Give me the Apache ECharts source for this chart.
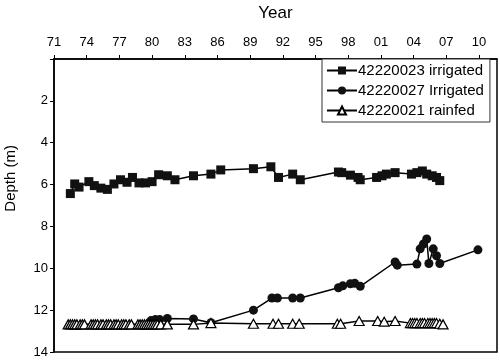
<!DOCTYPE html>
<html><head><meta charset="utf-8">
<script src="https://cdn.jsdelivr.net/npm/echarts@6/dist/echarts.min.js"></script>
<style>html,body{margin:0;padding:0;background:#fff}#c{width:500px;height:361px}</style>
</head><body><div id="c"></div>
<script>
var seriesNames = ['42220023 irrigated', '42220027 Irrigated', '42220021 rainfed'];
var xTicks = [1971, 1974, 1977, 1980, 1983, 1986, 1989, 1992, 1995, 1998, 2001, 2004, 2007, 2010];
var yTicks = [2, 4, 6, 8, 10, 12, 14];

var s1Years = [1972.5, 1972.9, 1973.3, 1974.2, 1974.7, 1975.3, 1975.9, 1976.5, 1977.1, 1977.7, 1978.2, 1978.8, 1979.4, 1980.0, 1980.6, 1981.4, 1982.1, 1983.8, 1985.4, 1986.3, 1989.3, 1990.9, 1991.6, 1992.9, 1993.6, 1997.1, 1997.4, 1998.2, 1998.9, 1999.1, 2000.6, 2001.1, 2001.5, 2002.3, 2003.8, 2004.3, 2004.8, 2005.2, 2005.7, 2006.1, 2006.4];
var s1Depth = [6.43, 5.97, 6.12, 5.86, 6.05, 6.17, 6.23, 5.97, 5.77, 5.89, 5.66, 5.92, 5.92, 5.86, 5.53, 5.58, 5.77, 5.58, 5.50, 5.30, 5.24, 5.15, 5.66, 5.50, 5.77, 5.40, 5.43, 5.55, 5.66, 5.77, 5.66, 5.58, 5.50, 5.43, 5.50, 5.43, 5.35, 5.50, 5.58, 5.66, 5.81];

var s2Years = [1979.9, 1980.3, 1980.7, 1981.4, 1983.8, 1985.4, 1989.3, 1991.0, 1991.5, 1992.9, 1993.6, 1997.1, 1997.5, 1998.2, 1998.6, 1999.1, 2002.3, 2002.5, 2004.3, 2004.6, 2004.9, 2005.2, 2005.4, 2005.8, 2006.1, 2006.4, 2009.9];
var s2Depth = [12.50, 12.45, 12.45, 12.40, 12.42, 12.60, 12.00, 11.42, 11.42, 11.42, 11.42, 10.93, 10.84, 10.74, 10.72, 10.86, 9.70, 9.85, 9.80, 9.07, 8.84, 8.60, 9.77, 9.07, 9.40, 9.77, 9.12];

var s3Years = [1972.3, 1972.5, 1972.7, 1972.9, 1973.1, 1973.4, 1973.6, 1973.8, 1974.4, 1974.6, 1974.8, 1975.0, 1975.3, 1975.5, 1975.8, 1976.0, 1976.2, 1976.5, 1976.7, 1976.9, 1977.2, 1977.4, 1977.6, 1977.9, 1978.1, 1978.7, 1978.9, 1979.1, 1979.3, 1979.5, 1979.7, 1979.9, 1980.1, 1980.3, 1980.5, 1980.8, 1981.4, 1983.8, 1985.4, 1989.3, 1991.1, 1991.6, 1992.9, 1993.5, 1997.0, 1997.3, 1999.0, 2000.7, 2001.3, 2002.3, 2003.7, 2003.9, 2004.1, 2004.3, 2004.6, 2004.8, 2005.0, 2005.3, 2005.5, 2005.7, 2005.9, 2006.1, 2006.4, 2006.7];
var s3Depth = [12.68, 12.68, 12.68, 12.68, 12.68, 12.68, 12.68, 12.68, 12.68, 12.68, 12.68, 12.68, 12.68, 12.68, 12.68, 12.68, 12.68, 12.68, 12.68, 12.68, 12.68, 12.68, 12.68, 12.68, 12.68, 12.68, 12.68, 12.68, 12.68, 12.68, 12.68, 12.68, 12.68, 12.68, 12.68, 12.68, 12.68, 12.68, 12.62, 12.65, 12.65, 12.65, 12.65, 12.65, 12.65, 12.65, 12.52, 12.52, 12.55, 12.52, 12.62, 12.62, 12.62, 12.62, 12.62, 12.62, 12.62, 12.62, 12.62, 12.62, 12.62, 12.62, 12.65, 12.68];

function zip(a, b) { return a.map(function (v, i) { return [v, b[i]]; }); }

var FONT = '"Liberation Sans", Arial, Helvetica, sans-serif';
var chart = echarts.init(document.getElementById('c'), null, {renderer: 'canvas'});
chart.setOption({
  animation: false,
  backgroundColor: '#fff',
  grid: {left: 54, right: 3, top: 49, bottom: 9, show: true, borderColor: '#000', borderWidth: 1.5, containLabel: false},
  legend: {
    orient: 'vertical', left: 322, top: 59,
    padding: [4, 6, 4, 4], itemGap: 5,
    borderColor: '#333', borderWidth: 1, backgroundColor: '#fff',
    itemWidth: 30, itemHeight: 10,
    textStyle: {fontFamily: FONT, fontSize: 15, color: '#000', padding: [0, 0, 0, -4]},
    data: seriesNames
  },
  xAxis: {
    type: 'value', position: 'top', min: 1971, max: 2011.65, interval: 3,
    name: 'Year', nameLocation: 'middle', nameGap: 37,
    nameTextStyle: {fontFamily: FONT, fontSize: 17, color: '#000'},
    axisLine: {lineStyle: {color: '#000', width: 1.5}},
    axisTick: {show: true, length: 4, lineStyle: {color: '#000', width: 1}},
    axisLabel: {fontFamily: FONT, fontSize: 13, color: '#000', margin: 10, showMaxLabel: false,
      formatter: function (v) { return xTicks.indexOf(v) >= 0 ? String(v).slice(2) : ''; }},
    splitLine: {show: false}
  },
  yAxis: {
    type: 'value', inverse: true, min: 0, max: 14, interval: 2,
    axisLine: {lineStyle: {color: '#000', width: 1.5}},
    axisTick: {show: true, length: 4, lineStyle: {color: '#000', width: 1}},
    axisLabel: {fontFamily: FONT, fontSize: 13, color: '#000', margin: 6,
      formatter: function (v) { return yTicks.indexOf(v) >= 0 ? String(v) : ''; }},
    splitLine: {show: false}
  },
  graphic: [{
    type: 'text', left: 3, top: 145, rotation: Math.PI / 2,
    style: {text: 'Depth (m)', font: '15px ' + FONT, fill: '#000'}
  }],
  series: [
    {name: seriesNames[0], type: 'line', data: zip(s1Years, s1Depth), symbol: 'rect', symbolSize: 9,
      lineStyle: {color: '#000', width: 1.5}, itemStyle: {color: '#111', borderColor: '#111', borderWidth: 0}, z: 3},
    {name: seriesNames[1], type: 'line', data: zip(s2Years, s2Depth), symbol: 'circle', symbolSize: 9,
      lineStyle: {color: '#000', width: 1.5}, itemStyle: {color: '#111', borderColor: '#111', borderWidth: 0}, z: 4},
    {name: seriesNames[2], type: 'line', data: zip(s3Years, s3Depth), symbol: 'triangle', symbolSize: [10, 9],
      lineStyle: {color: '#000', width: 1.5}, itemStyle: {color: '#fff', borderColor: '#000', borderWidth: 1.2}, z: 5}
  ]
});
</script></body></html>
